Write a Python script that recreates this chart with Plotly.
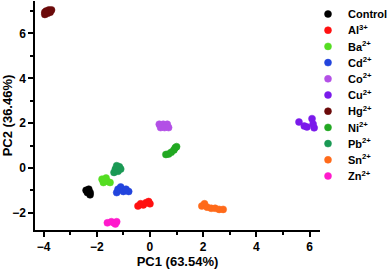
import plotly.graph_objects as go

groups = ["Control", "Al<sup>3+</sup>", "Ba<sup>2+</sup>", "Cd<sup>2+</sup>", "Co<sup>2+</sup>",
          "Cu<sup>2+</sup>", "Hg<sup>2+</sup>", "Ni<sup>2+</sup>", "Pb<sup>2+</sup>",
          "Sn<sup>2+</sup>", "Zn<sup>2+</sup>"]
colors = ["#000000", "#ff1010", "#55dd22", "#2244dd", "#b350e6", "#7a1aeb",
          "#6b0a0a", "#22a822", "#1a9954", "#ff6a1a", "#ff1acc"]

control_x = [-2.40, -2.30, -2.25, -2.35, -2.25]
control_y = [-1.00, -0.95, -1.10, -1.10, -1.20]
al_x = [-0.45, -0.35, -0.25, -0.15, -0.05, 0.00]
al_y = [-1.70, -1.60, -1.65, -1.55, -1.50, -1.60]
ba_x = [-1.80, -1.75, -1.65, -1.60, -1.50, -1.70]
ba_y = [-0.50, -0.65, -0.45, -0.60, -0.65, -0.55]
cd_x = [-1.25, -1.20, -1.10, -1.00, -0.90, -0.80]
cd_y = [-1.10, -0.95, -0.85, -1.05, -0.95, -1.05]
co_x = [0.35, 0.50, 0.65, 0.40, 0.55, 0.70]
co_y = [1.95, 1.95, 1.95, 1.80, 1.80, 1.80]
cu_x = [5.60, 5.80, 5.90, 6.09, 6.13, 6.17]
cu_y = [2.05, 1.87, 1.83, 2.20, 1.96, 1.79]
hg_x = [-3.95, -3.85, -3.75, -3.90, -3.80, -3.70, -3.95]
hg_y = [6.85, 6.90, 6.95, 7.00, 7.05, 7.05, 6.95]
ni_x = [0.60, 0.70, 0.80, 0.90, 0.95, 1.00]
ni_y = [0.60, 0.62, 0.70, 0.80, 0.90, 0.95]
pb_x = [-1.35, -1.30, -1.20, -1.15, -1.10, -1.25]
pb_y = [-0.20, -0.05, -0.15, 0.05, -0.05, 0.10]
sn_x = [1.95, 2.05, 2.15, 2.30, 2.45, 2.60, 2.75]
sn_y = [-1.70, -1.60, -1.75, -1.80, -1.80, -1.85, -1.85]
zn_x = [-1.60, -1.45, -1.35, -1.25, -1.30]
zn_y = [-2.45, -2.40, -2.45, -2.40, -2.50]

xs = [control_x, al_x, ba_x, cd_x, co_x, cu_x, hg_x, ni_x, pb_x, sn_x, zn_x]
ys = [control_y, al_y, ba_y, cd_y, co_y, cu_y, hg_y, ni_y, pb_y, sn_y, zn_y]

W, H = 388, 269
fig = go.Figure()
legends = {}
for i, (name, c, x, y) in enumerate(zip(groups, colors, xs, ys)):
    lg = "legend" if i == 0 else f"legend{i + 1}"
    fig.add_trace(go.Scatter(x=x, y=y, mode="markers", name=name, legend=lg, showlegend=True,
                             marker=dict(color=c, size=7, line=dict(width=0.5, color=c))))
    legends[lg] = dict(x=308 / W, xref="container", xanchor="left",
                       y=1 - (14 + 16.2 * i) / H, yref="container", yanchor="middle",
                       font=dict(family="Liberation Sans", size=11, color="black", weight="bold"),
                       bgcolor="rgba(0,0,0,0)", itemwidth=30)

axis_common = dict(showgrid=False, zeroline=False, showline=True, linecolor="black",
                   linewidth=1.5, ticks="outside", ticklen=5, tickwidth=1.5, tickcolor="black",
                   automargin=False,
                   tickfont=dict(family="Liberation Sans", size=12, color="black", weight="bold"),
                   dtick=2, minor=dict(ticks="outside", ticklen=3, tickwidth=1.5,
                                       tickcolor="black", dtick=1))

fig.update_layout(
    width=W, height=H,
    showlegend=True,
    margin=dict(l=35, r=68, t=1, b=39, autoexpand=False),
    paper_bgcolor="white", plot_bgcolor="white",
    font=dict(family="Liberation Sans", size=12, color="black"),
    xaxis=dict(range=[-4.32, 6.39], tick0=0,
               title=dict(text="<b>PC1 (63.54%)</b>", standoff=0,
                          font=dict(family="Liberation Sans", size=13, color="black")),
               **axis_common),
    yaxis=dict(range=[-2.77, 7.45], tick0=0,
               title=dict(text="<b>PC2 (36.46%)</b>", standoff=6,
                          font=dict(family="Liberation Sans", size=13, color="black")),
               **axis_common),
    **legends,
)

fig.write_html("out.html", config={"displayModeBar": False},
               post_script="document.body.style.margin='0';")
